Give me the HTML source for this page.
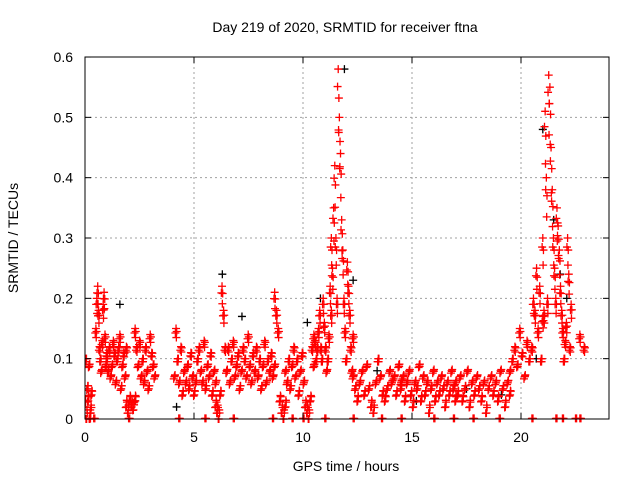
<!DOCTYPE html>
<html><head><meta charset="utf-8"><style>
body{margin:0;background:#fff}
svg text{font-family:"Liberation Sans",sans-serif;font-size:14px;fill:#000}
</style></head><body>
<svg id="chart" width="640" height="480">
<defs><clipPath id="plotclip"><rect x="85" y="50" width="524" height="374"/></clipPath></defs>
<rect width="640" height="480" fill="#fff"/>
<g id="grid"></g>
<g id="pts" clip-path="url(#plotclip)"></g>
<rect x="85" y="57" width="524" height="362" fill="none" stroke="#000" stroke-width="1"/>
<g id="ticks"></g>
<text x="345" y="32" text-anchor="middle">Day 219 of 2020, SRMTID for receiver ftna</text>
<text x="346" y="471" text-anchor="middle">GPS time / hours</text>
<text transform="translate(18,238) rotate(-90)" text-anchor="middle">SRMTID / TECUs</text>
</svg>
<script>
const xTicks=[0,5,10,15,20];
const yTicks=[0,0.1,0.2,0.3,0.4,0.5,0.6];
const yTickLabels=["0","0.1","0.2","0.3","0.4","0.5","0.6"];
// red series segments: start hour, end hour, values
const segStart=[0,0.5,1.0,1.9,2.3,4.1,6.0,6.5,8.7,9.2,10.5,11.3,12.3,14.5,17.0,19.5,20.5,21.0,22.7];
const segEnd=[0.3,1.0,1.9,2.3,3.2,6.0,6.5,8.7,9.2,10.5,11.3,12.3,14.5,17.0,19.5,20.5,21.0,22.3,22.9];
const segValues=[
[0.02,0.1,0.0,0.05,0.03,0.09,0.0,0.01,0.04],
[0.15,0.2,0.22,0.18,0.12,0.1,0.08,0.13,0.19,0.21,0.14,0.09,0.11],
[0.1,0.08,0.12,0.07,0.09,0.13,0.11,0.06,0.1,0.12,0.14,0.05,0.09,0.11,0.07,0.12],
[0.02,0.01,0.03,0.02,0.015,0.03],
[0.15,0.12,0.09,0.13,0.07,0.1,0.06,0.12,0.08,0.05,0.14,0.11,0.09,0.07],
[0.07,0.15,0.1,0.06,0.12,0.04,0.08,0.06,0.09,0.05,0.11,0.07,0.04,0.06,0.1,0.12,0.08,0.06,0.13,0.05,0.09,0.07,0.11,0.04,0.08,0.06],
[0.02,0.01,0.0,0.04,0.22,0.18,0.12,0.08],
[0.08,0.12,0.06,0.1,0.13,0.07,0.09,0.11,0.05,0.08,0.12,0.1,0.07,0.14,0.09,0.06,0.11,0.08,0.12,0.07,0.1,0.05,0.09,0.13,0.06,0.1,0.08,0.11,0.07,0.09],
[0.21,0.18,0.15,0.03,0.01,0.0,0.02],
[0.08,0.06,0.1,0.05,0.09,0.12,0.07,0.1,0.04,0.08,0.11,0.06,0.02,0.01,0.0,0.03,0.12,0.09],
[0.14,0.13,0.1,0.12,0.15,0.18,0.12,0.1,0.2,0.16,0.12,0.08,0.1,0.14,0.22,0.18],
[0.3,0.25,0.35,0.42,0.3,0.2,0.58,0.5,0.44,0.33,0.28,0.2,0.15,0.1,0.26,0.22,0.18,0.12,0.08,0.14],
[0.07,0.05,0.03,0.06,0.08,0.04,0.09,0.05,0.02,0.01,0.06,0.1,0.07,0.04,0.03,0.05,0.08,0.06,0.07,0.04,0.09,0.06],
[0.05,0.07,0.03,0.06,0.08,0.04,0.02,0.06,0.05,0.09,0.03,0.07,0.04,0.06,0.01,0.05,0.08,0.03,0.06,0.04,0.07,0.05,0.02,0.06,0.04,0.08,0.05,0.03],
[0.06,0.04,0.07,0.03,0.05,0.08,0.02,0.06,0.04,0.07,0.05,0.03,0.06,0.01,0.05,0.07,0.04,0.06,0.03,0.08,0.05,0.02,0.06,0.04],
[0.08,0.1,0.12,0.09,0.15,0.11,0.07,0.13,0.1,0.12],
[0.12,0.2,0.18,0.25,0.15,0.22,0.1,0.17],
[0.3,0.18,0.51,0.4,0.2,0.57,0.55,0.45,0.38,0.3,0.25,0.2,0.35,0.32,0.28,0.22,0.18,0.15,0.1,0.13,0.16,0.3,0.24,0.12,0.19],
[0.14,0.12]
];
// zero-level markers along bottom
const zeroTimes=[0.2,0.4,2.0,4.3,5.5,6.8,8.6,9.5,10.0,11.0,12.3,13.6,14.5,16.0,16.9,17.8,19.0,20.5,21.6,21.9,22.5,22.7];
// black series
const blackTimes=[1.6,2.3,4.2,6.3,7.2,10.2,10.8,11.9,12.3,13.4,15.2,17.5,19.1,20.7,21.0,21.5,21.8,22.1];
const blackValues=[0.19,0.03,0.02,0.24,0.17,0.16,0.2,0.58,0.23,0.08,0.03,0.05,0.04,0.1,0.48,0.33,0.24,0.2];

const X=t=>85+t*21.8;
const Y=v=>419-v*603.3;
const NS="http://www.w3.org/2000/svg";
const grid=document.getElementById('grid'),ticks=document.getElementById('ticks'),pts=document.getElementById('pts');
function mk(tag,at,parent){const e=document.createElementNS(NS,tag);for(const k in at)e.setAttribute(k,at[k]);parent.appendChild(e);return e;}
xTicks.forEach(t=>{
  const g=mk('line',{x1:X(t),x2:X(t),y1:57,y2:419,stroke:'#a0a0a0','stroke-dasharray':'2,3'},grid);
  
  
  mk('line',{x1:X(t),x2:X(t),y1:419,y2:413,stroke:'#000'},ticks);
  mk('line',{x1:X(t),x2:X(t),y1:57,y2:63,stroke:'#000'},ticks);
  const l=mk('text',{x:X(t),y:442,'text-anchor':'middle'},ticks);l.textContent=t;
  
  
});
yTicks.forEach((v,i)=>{
  const g=mk('line',{x1:85,x2:609,y1:Y(v),y2:Y(v),stroke:'#a0a0a0','stroke-dasharray':'2,3'},grid);
  
  
  mk('line',{x1:85,x2:91,y1:Y(v),y2:Y(v),stroke:'#000'},ticks);
  mk('line',{x1:609,x2:603,y1:Y(v),y2:Y(v),stroke:'#000'},ticks);
  const l=mk('text',{x:73,y:Y(v)+5,'text-anchor':'end'},ticks);l.textContent=yTickLabels[i];
  
  
});
function plus(t,v,c){
  const x=X(t),y=Y(v);
  const p=mk('path',{d:`M${x-4},${y}H${x+4}M${x},${y-4}V${y+4}`,stroke:c,'stroke-width':1.3,fill:'none'},pts);
  
  
}
blackTimes.forEach((t,i)=>plus(t,blackValues[i],'#000'));
segValues.forEach((vals,s)=>{
  const a=segStart[s],b=segEnd[s];
  vals.forEach((v,i)=>{
    const t=a+(b-a)*(vals.length>1?i/(vals.length-1):0);
    plus(t,v,'#f00');
    plus(t+0.03,v*0.9+0.01,'#f00');
    plus(t-0.03,v*0.95,'#f00');
    plus(t+0.015,v*0.8+0.015,'#f00');
  });
});
zeroTimes.forEach(t=>{plus(t,0.001,'#f00');plus(t+0.05,0.001,'#f00');});
</script>
</body></html>
